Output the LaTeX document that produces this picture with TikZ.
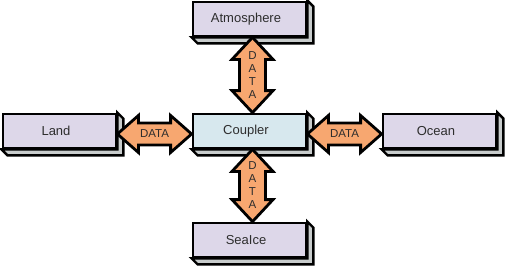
\documentclass[tikz,border=0pt]{standalone}
\usepackage{fontspec}
\setmainfont{Liberation Sans}
\usetikzlibrary{calc,positioning}
\definecolor{slablilac}{RGB}{221,215,233}
\definecolor{slabblue}{RGB}{215,232,238}
\definecolor{slabgray}{RGB}{200,204,204}
\definecolor{dataorange}{RGB}{247,167,112}
\definecolor{labelgray}{RGB}{45,45,45}

% grey right and bottom faces of a box
\newcommand{\slabsides}[1]{%
  \filldraw[slabedge] (#1.north east) -- ++(6,6) -- ($(#1.south east)+(6,6)$)
    -- ($(#1.south west)+(6,6)$) -- (#1.south west) -- (#1.south east) -- cycle;}

\begin{document}
\begin{tikzpicture}[
  x=1pt, y=-1pt, on grid,
  box/.style={draw, line width=2.8pt, minimum width=113pt, minimum height=34pt,
              fill=slablilac, text=labelgray, font=\fontsize{13}{15}\selectfont,
              execute at begin node={\hspace*{-7pt}}},
  hub/.style={box, fill=slabblue},
  slabedge/.style={draw, line width=2.4pt, fill=slabgray},
  dataarrow/.style={draw, line width=2.8pt, fill=dataorange},
  datalabel/.style={text=labelgray, align=center, font=\fontsize{11.5}{13}\selectfont}
]
  \useasboundingbox (0,0) rectangle (505,268);

  \node[hub] (cpl) at (249.5,131) {Coupler};
  \node[box, above=112pt of cpl] (atm) {Atmosphere};
  \node[box, below=109pt of cpl] (ice) {SeaIce};
  \node[box, left=190pt of cpl] (lnd) {Land};
  \node[box, right=190pt of cpl] (ocn) {Ocean};

  \foreach \b in {cpl,atm,ice,lnd,ocn} {\slabsides{\b}}

  % vertical data links
  \coordinate (t1) at ([xshift=3pt]atm.south);
  \coordinate (b1) at ([xshift=3pt]cpl.north);
  \draw[dataarrow] (t1) -- ++(20.5,22) -- ++(-7.5,0) -- ($(b1)+(13,-22)$) -- ++(7.5,0)
    -- (b1) -- ++(-20.5,-22) -- ++(7.5,0) -- ($(t1)+(-13,22)$) -- ++(-7.5,0) -- cycle;
  \path (t1) -- node[datalabel] {D\\A\\T\\A} (b1);

  \coordinate (t2) at ([xshift=3pt]cpl.south);
  \coordinate (b2) at ([xshift=3pt]ice.north);
  \draw[dataarrow] (t2) -- ++(20.5,22) -- ++(-7.5,0) -- ($(b2)+(13,-22)$) -- ++(7.5,0)
    -- (b2) -- ++(-20.5,-22) -- ++(7.5,0) -- ($(t2)+(-13,22)$) -- ++(-7.5,0) -- cycle;
  \path (t2) -- node[datalabel] {D\\A\\T\\A} (b2);

  % horizontal data links
  \coordinate (l1) at ([yshift=-3pt]lnd.east);
  \coordinate (r1) at ([yshift=-3pt]cpl.west);
  \draw[dataarrow] (l1) -- ++(21,-18.5) -- ++(0,7.5) -- ($(r1)+(-21,-11)$) -- ++(0,-7.5)
    -- (r1) -- ++(-21,18.5) -- ++(0,-7.5) -- ($(l1)+(21,11)$) -- ++(0,7.5) -- cycle;
  \path (l1) -- node[datalabel] {DATA} (r1);

  \coordinate (l2) at ([yshift=-3pt]cpl.east);
  \coordinate (r2) at ([yshift=-3pt]ocn.west);
  \draw[dataarrow] (l2) -- ++(21,-18.5) -- ++(0,7.5) -- ($(r2)+(-21,-11)$) -- ++(0,-7.5)
    -- (r2) -- ++(-21,18.5) -- ++(0,-7.5) -- ($(l2)+(21,11)$) -- ++(0,7.5) -- cycle;
  \path (l2) -- node[datalabel] {DATA} (r2);
\end{tikzpicture}
\end{document}
